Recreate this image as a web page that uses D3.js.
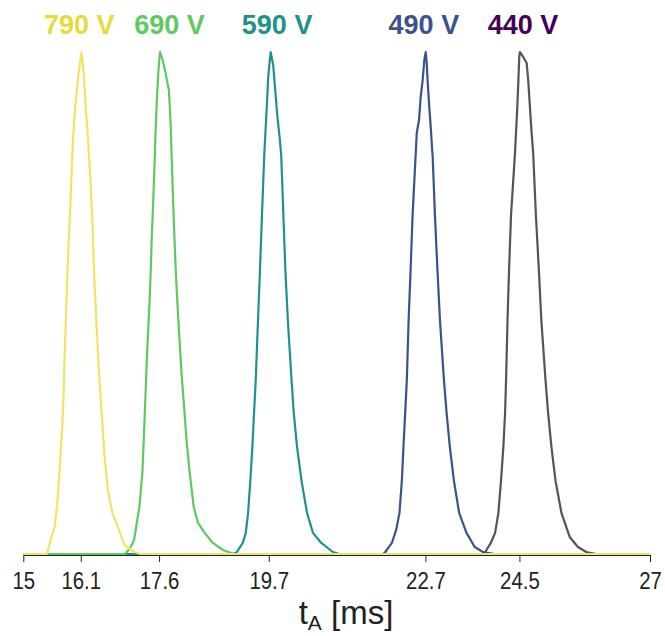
<!DOCTYPE html>
<html>
<head>
<meta charset="utf-8">
<script src="https://cdn.jsdelivr.net/npm/d3@7"></script>
<style>
  body { margin: 0; background: #fff; }
  svg { display: block; }
</style>
</head>
<body>
<div id="chart"></div>
<script>
// arrival-time peaks for five voltages, each normalised to its own maximum
const tickValues = [15, 16.1, 17.6, 19.7, 22.7, 24.5, 27];

const voltages = ['790 V', '690 V', '590 V', '490 V', '440 V'];
const labelT = [16.07, 17.8, 19.86, 22.67, 24.57];

const s790 = [[15, 0], [15.45, 0], [15.54, 0.034], [15.6, 0.054], [15.645, 0.094], [15.68, 0.141],
  [15.715, 0.201], [15.75, 0.261], [15.77, 0.313], [15.79, 0.393], [15.815, 0.466], [15.84, 0.546],
  [15.87, 0.625], [15.905, 0.705], [15.95, 0.825], [15.995, 0.891], [16.06, 0.958], [16.115, 1.0],
  [16.155, 0.958], [16.195, 0.891], [16.24, 0.825], [16.285, 0.745], [16.325, 0.659], [16.355, 0.56],
  [16.4, 0.46], [16.45, 0.361], [16.505, 0.274], [16.555, 0.194], [16.62, 0.127], [16.705, 0.082],
  [16.81, 0.054], [16.935, 0.018], [17.125, 0.004], [17.25, 0], [27, 0]];

const s690 = [[15, 0], [16.947, 0], [17.047, 0.012], [17.122, 0.028], [17.173, 0.062], [17.223, 0.094],
  [17.28, 0.161], [17.306, 0.227], [17.331, 0.293], [17.356, 0.361], [17.382, 0.426], [17.413, 0.492],
  [17.439, 0.56], [17.458, 0.625], [17.483, 0.691], [17.508, 0.759], [17.527, 0.825], [17.554, 0.898],
  [17.584, 0.958], [17.617, 1.0], [17.668, 0.984], [17.725, 0.958], [17.788, 0.924], [17.82, 0.859],
  [17.851, 0.759], [17.883, 0.659], [17.921, 0.56], [17.972, 0.46], [18.029, 0.361], [18.079, 0.293],
  [18.125, 0.227], [18.187, 0.161], [18.263, 0.094], [18.345, 0.062], [18.473, 0.042], [18.631, 0.022],
  [18.821, 0.008], [19.044, 0], [27, 0]];

const s590 = [[15, 0], [19.03, 0], [19.089, 0.004], [19.203, 0.022], [19.26, 0.042], [19.304, 0.082],
  [19.348, 0.147], [19.386, 0.213], [19.418, 0.281], [19.451, 0.347], [19.494, 0.466], [19.532, 0.566],
  [19.57, 0.675], [19.614, 0.795], [19.641, 0.849], [19.666, 0.898], [19.69, 0.951], [19.736, 1.0],
  [19.785, 0.974], [19.824, 0.924], [19.862, 0.875], [19.913, 0.825], [19.938, 0.795], [19.98, 0.675],
  [20.018, 0.566], [20.065, 0.466], [20.136, 0.347], [20.179, 0.281], [20.242, 0.213], [20.326, 0.147],
  [20.432, 0.082], [20.547, 0.042], [20.706, 0.022], [20.927, 0.004], [21.055, 0], [27, 0]];

const s490 = [[15, 0], [21.89, 0], [21.931, 0.004], [22.058, 0.022], [22.14, 0.048], [22.203, 0.082],
  [22.249, 0.147], [22.279, 0.213], [22.312, 0.281], [22.344, 0.347], [22.378, 0.466], [22.416, 0.566],
  [22.454, 0.675], [22.515, 0.799], [22.534, 0.839], [22.578, 0.865], [22.61, 0.911], [22.641, 0.938],
  [22.66, 0.961], [22.679, 0.984], [22.706, 1.0], [22.725, 0.978], [22.744, 0.938], [22.774, 0.89],
  [22.801, 0.851], [22.825, 0.811], [22.839, 0.791], [22.882, 0.675], [22.93, 0.566], [22.978, 0.466],
  [23.054, 0.347], [23.105, 0.281], [23.168, 0.213], [23.244, 0.147], [23.345, 0.082], [23.486, 0.042],
  [23.644, 0.014], [23.802, 0.004], [24.025, 0], [27, 0]];

const s440 = [[15, 0], [23.8, 0], [23.844, 0.004], [23.952, 0.022], [24.034, 0.042], [24.097, 0.082],
  [24.148, 0.147], [24.192, 0.213], [24.225, 0.281], [24.244, 0.347], [24.272, 0.466], [24.301, 0.566],
  [24.339, 0.675], [24.415, 0.799], [24.434, 0.839], [24.459, 0.89], [24.478, 0.938], [24.497, 0.991],
  [24.51, 1.0], [24.562, 0.992], [24.638, 0.978], [24.668, 0.944], [24.701, 0.89], [24.733, 0.839],
  [24.763, 0.799], [24.815, 0.675], [24.872, 0.566], [24.919, 0.466], [24.999, 0.347], [25.049, 0.281],
  [25.113, 0.213], [25.189, 0.147], [25.304, 0.082], [25.462, 0.034], [25.62, 0.014], [25.78, 0.004],
  [25.97, 0], [27, 0]];

const seriesData = [s790, s690, s590, s490, s440];
const lineColors = ['#f0e468', '#5ec962', '#21918c', '#3b528b', '#555555'];
const labelColors = ['#e4db3c', '#5ec962', '#21918c', '#3b528b', '#440154'];

const width = 665;
const height = 636;
const margin = { top: 52, right: 15, bottom: 82, left: 23.3 };
const fontStack = '"Liberation Sans", Arial, sans-serif';

const svg = d3.select('#chart').append('svg')
    .attr('width', width)
    .attr('height', height);

svg.append('rect').attr('width', width).attr('height', height).attr('fill', '#fff');

const x = d3.scaleLinear().domain([15, 27]).range([margin.left, width - margin.right]);
const y = d3.scaleLinear().domain([0, 1]).range([height - margin.bottom, margin.top]);

// axis first, the yellow trace covers its line
const axis = svg.append('g')
    .attr('transform', `translate(0,${y(0) + 1})`)
    .call(d3.axisBottom(x).tickValues(tickValues).tickFormat(d => d).tickSize(7).tickSizeOuter(0));
axis.select('.domain').attr('stroke', '#222');
axis.selectAll('.tick line').attr('stroke', '#222');
// narrow look of the original font: squeeze the labels sideways
axis.selectAll('.tick text')
    .attr('font-family', fontStack)
    .attr('font-size', '24px')
    .attr('fill', '#222')
    .attr('y', 0)
    .attr('dy', 0)
    .attr('transform', 'translate(0,34) scale(0.85,1)');

const line = d3.line().x(d => x(d[0])).y(d => y(d[1]));

// drawn from 440 V up to 790 V so the yellow trace ends on top
d3.range(seriesData.length).reverse().forEach(i => {
    svg.append('path')
        .datum(seriesData[i])
        .attr('d', line)
        .attr('fill', 'none')
        .attr('stroke', lineColors[i])
        .attr('stroke-width', 2.2)
        .attr('stroke-linejoin', 'round');
});

svg.append('g').selectAll('text')
    .data(voltages)
    .enter().append('text')
    .attr('x', (d, i) => x(labelT[i]))
    .attr('y', 34)
    .attr('text-anchor', 'middle')
    .attr('font-family', fontStack)
    .attr('font-weight', 'bold')
    .attr('font-size', '27px')
    .attr('fill', (d, i) => labelColors[i])
    .text(d => d);

const title = svg.append('text')
    .attr('transform', 'translate(346,624)')
    .attr('text-anchor', 'middle')
    .attr('font-family', fontStack)
    .attr('font-size', '33px')
    .attr('fill', '#222');
title.append('tspan').text('t');
title.append('tspan').attr('font-size', '21px').attr('dy', '6').text('A');
title.append('tspan').attr('dy', '-6').text(' [ms]');
</script>
</body>
</html>
